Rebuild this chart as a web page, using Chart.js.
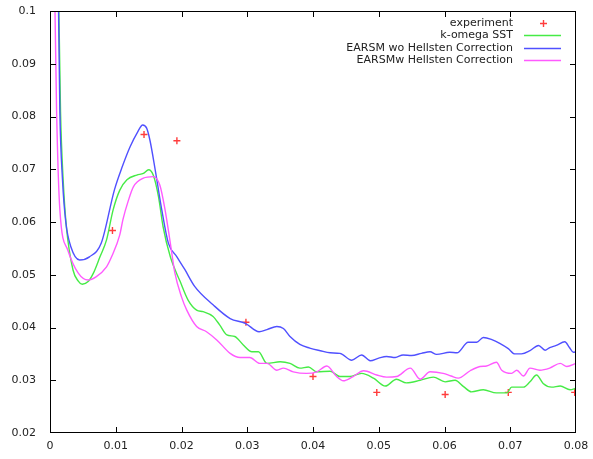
<!DOCTYPE html>
<html>
<head>
<meta charset="utf-8">
<script src="https://cdn.jsdelivr.net/npm/chart.js@4.4.0/dist/chart.umd.min.js"></script>
<style>
  html, body { margin: 0; padding: 0; background: #fff; }
  #wrap { width: 593px; height: 459px; }
</style>
</head>
<body>
<div id="wrap"><canvas id="plot"></canvas></div>
<script>
// series labels (legend order)
const seriesNames = ['experiment', 'k-omega SST', 'EARSM wo Hellsten Correction', 'EARSMw Hellsten Correction'];
const seriesColors = ['rgb(255,60,60)', 'rgb(70,235,70)', 'rgb(80,80,255)', 'rgb(255,90,255)'];

// experiment points
const expX = [0.0095, 0.0143, 0.0193, 0.0298, 0.0400, 0.0497, 0.0601, 0.0697, 0.0798];
const expY = [0.0584, 0.0766, 0.0754, 0.0410, 0.0307, 0.0277, 0.0273, 0.0277, 0.0277];

// k-omega SST
const sstX = [0.0010, 0.00135, 0.0016, 0.0020, 0.0025, 0.0035, 0.0043, 0.0049, 0.0058, 0.0066, 0.0076, 0.0086, 0.0096, 0.0106, 0.0117,
  0.0132, 0.0142, 0.0150, 0.0157, 0.0165, 0.0172, 0.0183, 0.0198, 0.0210, 0.0223, 0.0233, 0.0248, 0.0258, 0.0269, 0.0281,
  0.0294, 0.0307, 0.0317, 0.0330, 0.0350, 0.0365, 0.0380, 0.0393, 0.0406, 0.0426, 0.0441, 0.0456, 0.0474, 0.0492, 0.0510,
  0.0527, 0.0542, 0.0563, 0.0583, 0.0601, 0.0616, 0.0629, 0.0641, 0.0659, 0.0679, 0.0695, 0.0702, 0.0720, 0.0730, 0.0740,
  0.0750, 0.0763, 0.0776, 0.0791, 0.0800];
const sstY = [0.115, 0.100, 0.081, 0.068, 0.059, 0.0509, 0.0488, 0.0482, 0.0487, 0.0503, 0.0534, 0.0566, 0.0623, 0.0660, 0.0680,
  0.0689, 0.0692, 0.0699, 0.0689, 0.0648, 0.0591, 0.0534, 0.0487, 0.0452, 0.0433, 0.0430, 0.0421, 0.0405, 0.0386, 0.0383,
  0.0367, 0.0354, 0.0354, 0.0332, 0.0335, 0.0332, 0.0323, 0.0325, 0.0316, 0.0317, 0.0307, 0.0307, 0.0313, 0.0304, 0.0289,
  0.0302, 0.0295, 0.0300, 0.0306, 0.0297, 0.0300, 0.0288, 0.0278, 0.0282, 0.0276, 0.0276, 0.0287, 0.0287, 0.0297, 0.0310,
  0.0294, 0.0287, 0.0289, 0.0282, 0.0285];

// EARSM without Hellsten correction
const woX = [0.0010, 0.0013, 0.0015, 0.0019, 0.0024, 0.0032, 0.0045, 0.0060, 0.0078, 0.0098, 0.0110, 0.0122, 0.0133, 0.0141, 0.0147,
  0.0152, 0.0160, 0.0170, 0.0180, 0.0193, 0.0205, 0.0220, 0.0248, 0.0274, 0.0297, 0.0318, 0.0330, 0.0345, 0.0355, 0.0365,
  0.0380, 0.0395, 0.0411, 0.0426, 0.0441, 0.0459, 0.0474, 0.0487, 0.0500, 0.0512, 0.0525, 0.0537, 0.0550, 0.0565, 0.0578,
  0.0588, 0.0608, 0.0619, 0.0636, 0.0649, 0.0659, 0.0672, 0.0684, 0.0697, 0.0707, 0.0717, 0.0730, 0.0743, 0.0753, 0.0760,
  0.0770, 0.0783, 0.0790, 0.0796, 0.0800];
const woY = [0.115, 0.100, 0.081, 0.068, 0.060, 0.0552, 0.0528, 0.0534, 0.0560, 0.0661, 0.0705, 0.0743, 0.0770, 0.0784, 0.0778,
  0.0755, 0.0699, 0.0623, 0.0560, 0.0534, 0.0510, 0.0478, 0.0443, 0.0417, 0.0408, 0.0392, 0.0396, 0.0402, 0.0398, 0.0383,
  0.0368, 0.0361, 0.0356, 0.0352, 0.0351, 0.0338, 0.0348, 0.0337, 0.0342, 0.0345, 0.0343, 0.0348, 0.0347, 0.0351, 0.0354,
  0.0349, 0.0353, 0.0352, 0.0372, 0.0372, 0.0381, 0.0377, 0.0370, 0.0360, 0.0350, 0.0350, 0.0356, 0.0366, 0.0357, 0.0362,
  0.0366, 0.0373, 0.0362, 0.0353, 0.0354];

// EARSM with Hellsten correction
const wX = [0.0004, 0.00076, 0.0010, 0.0015, 0.0027, 0.0043, 0.0058, 0.0070, 0.0086, 0.0094, 0.0106, 0.0111, 0.0119, 0.0127, 0.0142,
  0.0157, 0.0167, 0.0175, 0.0183, 0.0190, 0.0200, 0.0208, 0.0223, 0.0238, 0.0254, 0.0274, 0.0289, 0.0304, 0.0319, 0.0330,
  0.0345, 0.0355, 0.0370, 0.0390, 0.0406, 0.0421, 0.0436, 0.0446, 0.0461, 0.0477, 0.0497, 0.0512, 0.0527, 0.0548, 0.0563,
  0.0578, 0.0598, 0.0610, 0.0621, 0.0639, 0.0654, 0.0664, 0.0679, 0.0687, 0.0702, 0.0710, 0.0720, 0.0730, 0.0745, 0.0760,
  0.0776, 0.0786, 0.0800];
const wY = [0.115, 0.100, 0.0812, 0.0623, 0.0547, 0.0503, 0.0490, 0.0496, 0.0515, 0.0535, 0.0575, 0.0605, 0.0640, 0.0667, 0.0683,
  0.0686, 0.0670, 0.0623, 0.0560, 0.0503, 0.0458, 0.0433, 0.0402, 0.0392, 0.0376, 0.0351, 0.0343, 0.0343, 0.0332, 0.0332,
  0.0319, 0.0323, 0.0316, 0.0313, 0.0316, 0.0327, 0.0307, 0.0299, 0.0307, 0.0318, 0.0310, 0.0306, 0.0307, 0.0323, 0.0302,
  0.0316, 0.0313, 0.0308, 0.0304, 0.0318, 0.0326, 0.0327, 0.0334, 0.0319, 0.0313, 0.0319, 0.0308, 0.0323, 0.0319, 0.0323,
  0.0332, 0.0326, 0.0332];

const FONT = '11px "DejaVu Sans", sans-serif';

function pts(xs, ys) {
  return xs.map((x, i) => ({ x: x, y: ys[i] }));
}

function lineSet(i, xs, ys, order) {
  return {
    label: seriesNames[i],
    data: pts(xs, ys),
    showLine: true,
    borderColor: seriesColors[i],
    borderWidth: 1.4,
    pointRadius: 0,
    cubicInterpolationMode: 'monotone',
    order: order
  };
}

// gnuplot-like frame, inward ticks on every side, and the key in the top right
const framePlugin = {
  id: 'frame',
  afterDraw(chart) {
    const ctx = chart.ctx;
    const xs = chart.scales.x, ys = chart.scales.y;
    // frame edges taken from the scales themselves
    const L = Math.round(xs.getPixelForValue(xs.min));
    const R = Math.round(xs.getPixelForValue(xs.max)) - 1;
    const T = Math.round(ys.getPixelForValue(ys.max));
    const B = Math.round(ys.getPixelForValue(ys.min)) - 1;
    ctx.save();
    ctx.fillStyle = '#000';
    ctx.fillRect(L, T, R - L + 1, 1);
    ctx.fillRect(L, B, R - L + 1, 1);
    ctx.fillRect(L, T, 1, B - T + 1);
    ctx.fillRect(R, T, 1, B - T + 1);
    xs.ticks.forEach(t => {
      const px = Math.min(R, Math.round(xs.getPixelForValue(t.value)));
      ctx.fillRect(px, B - 5, 1, 5);
      ctx.fillRect(px, T + 1, 1, 5);
    });
    ys.ticks.forEach(t => {
      const py = Math.min(B, Math.round(ys.getPixelForValue(t.value)));
      ctx.fillRect(L + 1, py, 5, 1);
      ctx.fillRect(R - 5, py, 5, 1);
    });

    // key
    ctx.font = FONT;
    ctx.textAlign = 'right';
    ctx.textBaseline = 'middle';
    const textRight = 513, s0 = 524, s1 = 561, rowTop = 22.5, rowStep = 12.5;
    seriesNames.forEach((name, i) => {
      const y = Math.round(rowTop + i * rowStep) + 0.5;
      ctx.fillStyle = '#222';
      ctx.fillText(name, textRight, y);
      ctx.strokeStyle = seriesColors[i];
      ctx.lineWidth = 1.4;
      ctx.beginPath();
      if (i === 0) {
        const cx = Math.round((s0 + s1) / 2) + 0.5;
        ctx.moveTo(cx - 3.5, y); ctx.lineTo(cx + 3.5, y);
        ctx.moveTo(cx, y - 3.5); ctx.lineTo(cx, y + 3.5);
      } else {
        ctx.moveTo(s0, y); ctx.lineTo(s1, y);
      }
      ctx.stroke();
    });
    ctx.restore();
  }
};

function fmt(v) {
  return String(Number(v.toFixed(3)));
}

window.addEventListener('load', function () {
  const ctx = document.getElementById('plot').getContext('2d');
  new Chart(ctx, {
    type: 'scatter',
    data: {
      datasets: [
        {
          label: seriesNames[0],
          data: pts(expX, expY),
          showLine: false,
          pointStyle: 'cross',
          pointRadius: 3.5,
          borderColor: seriesColors[0],
          backgroundColor: seriesColors[0],
          borderWidth: 1.4,
          order: 4
        },
        lineSet(1, sstX, sstY, 3),
        lineSet(2, woX, woY, 2),
        lineSet(3, wX, wY, 1)
      ]
    },
    options: {
      responsive: true,
      maintainAspectRatio: false,
      animation: false,
      devicePixelRatio: 1,
      layout: { padding: { top: 11, right: 17, left: 0, bottom: 0 } },
      plugins: {
        legend: { display: false },
        tooltip: { enabled: false }
      },
      scales: {
        x: {
          type: 'linear',
          min: 0,
          max: 0.08,
          grid: { display: false, drawTicks: false },
          border: { display: false },
          afterFit: s => { s.height = 26; s.paddingLeft = 0; s.paddingRight = 0; },
          ticks: {
            stepSize: 0.01,
            padding: 7,
            maxRotation: 0,
            color: '#222',
            font: { family: '"DejaVu Sans", sans-serif', size: 11 },
            callback: v => fmt(v)
          }
        },
        y: {
          min: 0.02,
          max: 0.1,
          grid: { display: false, drawTicks: false },
          border: { display: false },
          afterFit: s => { s.width = 50; s.paddingTop = 0; s.paddingBottom = 0; },
          ticks: {
            stepSize: 0.01,
            padding: 14,
            color: '#222',
            font: { family: '"DejaVu Sans", sans-serif', size: 11 },
            callback: v => fmt(v)
          }
        }
      }
    },
    plugins: [framePlugin]
  });
});
</script>
</body>
</html>
